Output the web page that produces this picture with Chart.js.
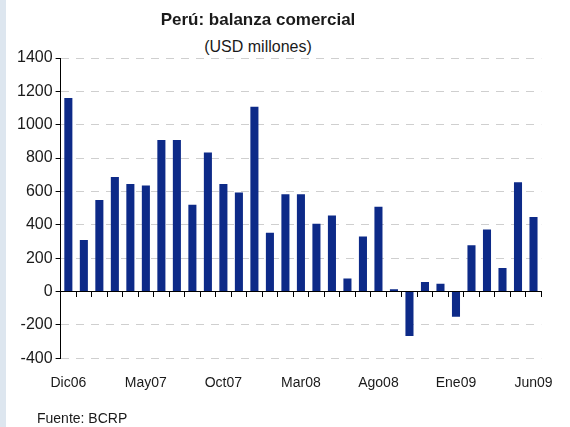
<!DOCTYPE html>
<html lang="es">
<head>
<meta charset="utf-8">
<title>Perú: balanza comercial</title>
<script src="https://cdn.jsdelivr.net/npm/chart.js@4.4.1/dist/chart.umd.min.js"></script>
<style>
    body {
        margin: 0;
        background: linear-gradient(to right, #dde6ef 0, #dde6ef 6px, #ffffff 6px);
        font-family: "Liberation Sans", Arial, sans-serif;
        color: #1a1a1a;
    }
    #wrap { position: relative; width: 570px; height: 427px; }
    #grafico { position: absolute; left: 0; top: 0; }
    .titulo {
        position: absolute; left: 0; width: 516px; text-align: center; z-index: 2;
    }
    #titulo { top: 10px; font-size: 17px; font-weight: bold; line-height: 20px; }
    #subtitulo { top: 38px; font-size: 16px; line-height: 18px; }
    #subtitulo span { background: #fff; padding: 0 3px; }
    #fuente { position: absolute; left: 37px; top: 410px; font-size: 14px; line-height: 16px; }
</style>
</head>
<body>
<div id="wrap">
    <canvas id="grafico" width="570" height="427"></canvas>
    <div class="titulo" id="titulo">Perú: balanza comercial</div>
    <div class="titulo" id="subtitulo"><span>(USD millones)</span></div>
    <div id="fuente">Fuente: BCRP</div>
</div>
<script>
// Datos: balanza comercial mensual (USD millones), Dic06 - Jun09
const meses = [
    'Dic06', 'Ene07', 'Feb07', 'Mar07', 'Abr07', 'May07', 'Jun07', 'Jul07', 'Ago07', 'Sep07',
    'Oct07', 'Nov07', 'Dic07', 'Ene08', 'Feb08', 'Mar08', 'Abr08', 'May08', 'Jun08', 'Jul08',
    'Ago08', 'Sep08', 'Oct08', 'Nov08', 'Dic08', 'Ene09', 'Feb09', 'Mar09', 'Abr09', 'May09',
    'Jun09'
];
const balanza = [
    1160, 308, 548, 687, 645, 635, 908, 908, 520, 834,
    645, 593, 1107, 352, 583, 583, 406, 456, 78, 330,
    508, 14, -267, 57, 46, -151, 277, 372, 141, 655,
    446
];
const etiquetasVisibles = ['Dic06', 'May07', 'Oct07', 'Mar08', 'Ago08', 'Ene09', 'Jun09'];
const ticksY = { min: -400, max: 1400, paso: 200 };

const colorBarra = '#0d2a88';
const colorTexto = '#1a1a1a';

new Chart(document.querySelector('#grafico'), {
    type: 'bar',
    data: {
        labels: meses,
        datasets: [{
            data: balanza,
            backgroundColor: colorBarra,
            borderWidth: 0,
            barPercentage: 0.52,
            categoryPercentage: 1
        }]
    },
    options: {
        responsive: false,
        animation: false,
        layout: {
            padding: { top: 58, left: 14, right: 26, bottom: 18 }
        },
        plugins: {
            legend: { display: false },
            tooltip: { enabled: false }
        },
        scales: {
            // eje en el valor cero con marcas hacia abajo
            x: {
                type: 'category',
                position: { y: 0 },
                offset: true,
                ticks: { display: false },
                grid: {
                    offset: true,
                    drawOnChartArea: false,
                    drawTicks: true,
                    tickLength: 5,
                    color: '#000'
                },
                border: { display: true, color: '#000', width: 1 }
            },
            // etiquetas de meses en la parte inferior
            xEtiquetas: {
                type: 'category',
                position: 'bottom',
                offset: true,
                grid: { display: false, drawTicks: false },
                border: { display: false },
                ticks: {
                    autoSkip: false,
                    maxRotation: 0,
                    padding: 17,
                    color: colorTexto,
                    font: { family: '"Liberation Sans", Arial, sans-serif', size: 14 },
                    callback: function (valor) {
                        const etiqueta = this.getLabelForValue(valor);
                        return etiquetasVisibles.includes(etiqueta) ? etiqueta : '';
                    }
                }
            },
            y: {
                min: ticksY.min,
                max: ticksY.max,
                ticks: {
                    stepSize: ticksY.paso,
                    padding: 3,
                    color: colorTexto,
                    font: { family: '"Liberation Sans", Arial, sans-serif', size: 16 },
                    callback: (valor) => String(valor)
                },
                grid: {
                    color: (ctx) => (ctx.tick && ctx.tick.value === 0) ? 'rgba(0,0,0,0)' : '#cfcfcf',
                    tickColor: '#000',
                    tickLength: 5,
                    lineWidth: 1
                },
                border: { display: true, color: '#000', width: 1, dash: [8, 7] }
            }
        }
    }
});
</script>
</body>
</html>
